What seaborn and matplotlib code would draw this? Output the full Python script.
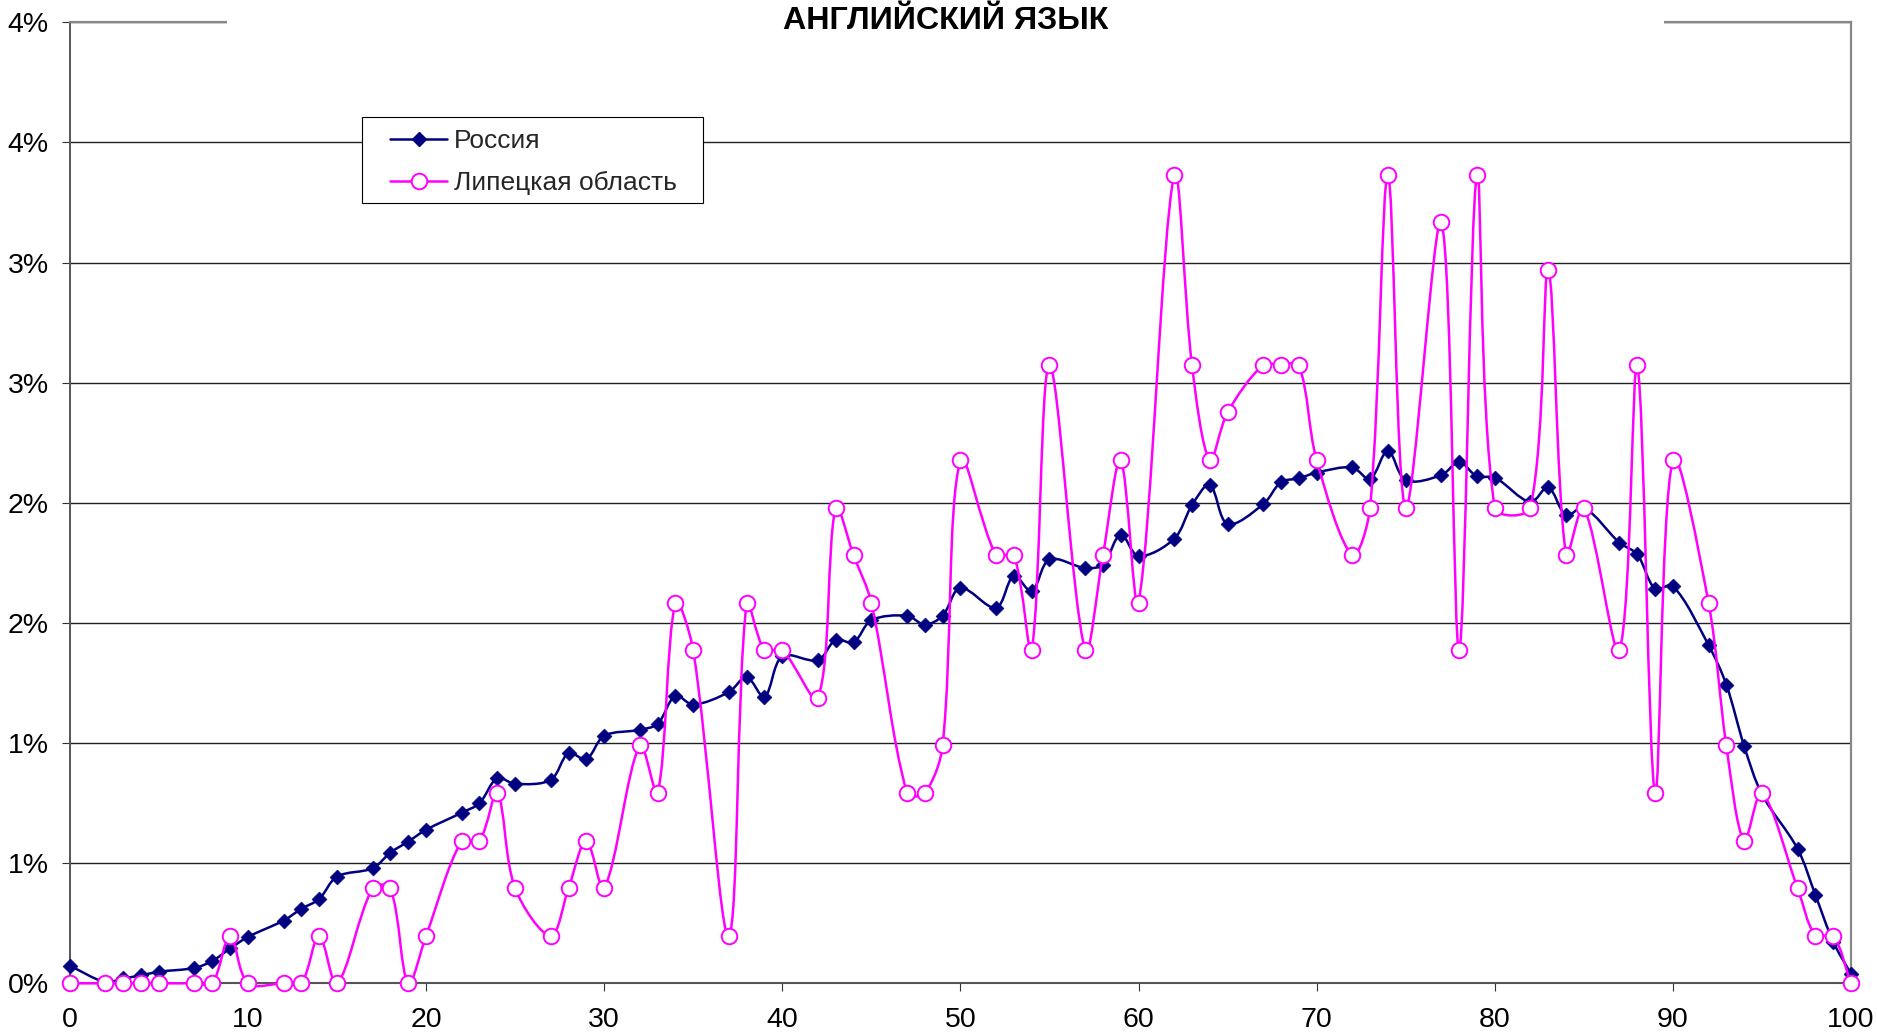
import math
import numpy as np
import matplotlib
matplotlib.use("Agg")
import matplotlib.pyplot as plt
from matplotlib.path import Path
from matplotlib.patches import PathPatch, Rectangle
from matplotlib.lines import Line2D
from matplotlib.ticker import FuncFormatter
import seaborn as sns

# Test scores (points) on the x axis
scores = [0, 2, 3, 4, 5, 7, 8, 9, 10, 12, 13, 14, 15, 17, 18, 19, 20,
          22, 23, 24, 25, 27, 28, 29, 30, 32, 33, 34, 35, 37, 38, 39, 40,
          42, 43, 44, 45, 47, 48, 49, 50, 52, 53, 54, 55, 57, 58, 59, 60,
          62, 63, 64, 65, 67, 68, 69, 70, 72, 73, 74, 75, 77, 78, 79, 80,
          82, 83, 84, 85, 87, 88, 89, 90, 92, 93, 94, 95, 97, 98, 99, 100]

# Share of participants, %
russia = [0.073, 0.005, 0.020, 0.033, 0.048, 0.064, 0.093, 0.145, 0.193,
          0.261, 0.310, 0.351, 0.444, 0.479, 0.544, 0.590, 0.639,
          0.710, 0.750, 0.854, 0.830, 0.847, 0.958, 0.933, 1.030,
          1.055, 1.080, 1.197, 1.160, 1.212, 1.275, 1.192, 1.361,
          1.345, 1.430, 1.419, 1.511, 1.530, 1.493, 1.530, 1.646,
          1.563, 1.697, 1.632, 1.764, 1.729, 1.743, 1.868, 1.778,
          1.850, 1.990, 2.075, 1.912, 1.994, 2.086, 2.102, 2.126,
          2.147, 2.099, 2.217, 2.094, 2.115, 2.170, 2.110, 2.105,
          2.003, 2.065, 1.948, 1.980, 1.834, 1.785, 1.642, 1.654,
          1.408, 1.243, 0.988, 0.787, 0.560, 0.368, 0.173, 0.039]

lipetsk = [0.0, 0.0, 0.0, 0.0, 0.0, 0.0, 0.0, 0.198, 0.0,
           0.0, 0.0, 0.198, 0.0, 0.396, 0.396, 0.0, 0.198,
           0.594, 0.594, 0.792, 0.396, 0.198, 0.396, 0.594, 0.396,
           0.990, 0.792, 1.584, 1.386, 0.198, 1.584, 1.386, 1.386,
           1.188, 1.980, 1.782, 1.584, 0.792, 0.792, 0.990, 2.178,
           1.782, 1.782, 1.386, 2.574, 1.386, 1.782, 2.178, 1.584,
           3.366, 2.574, 2.178, 2.376, 2.574, 2.574, 2.574, 2.178,
           1.782, 1.980, 3.366, 1.980, 3.168, 1.386, 3.366, 1.980,
           1.980, 2.970, 1.782, 1.980, 1.386, 2.574, 0.792, 2.178,
           1.584, 0.990, 0.594, 0.792, 0.396, 0.198, 0.198, 0.0]

x_ticks = [0, 10, 20, 30, 40, 50, 60, 70, 80, 90, 100]
y_ticks = [0.0, 0.5, 1.0, 1.5, 2.0, 2.5, 3.0, 3.5, 4.0]
series_names = ["Россия", "Липецкая область"]
title = "АНГЛИЙСКИЙ ЯЗЫК"

NAVY = "#000080"
MAGENTA = "#FF00FF"

sns.set_theme(style="white")
plt.rcParams["font.family"] = ["Liberation Sans", "DejaVu Sans"]

W, H = 1877, 1035
X_MAX, Y_MAX = 100, 4
ax_box = [69.8 / W, (H - 983.3) / H, (1851 - 69.8) / W, (983.3 - 22.3) / H]
fig = plt.figure(figsize=(W / 100, H / 100), dpi=100)
ax = fig.add_axes(ax_box)

# pixels per data unit, used to measure segment lengths on screen
SX = ax_box[2] * W / X_MAX
SY = ax_box[3] * H / Y_MAX


def smooth_path(xs, ys):
    """Smoothed line through the points: cubic Bezier segments whose
    tangents follow the neighbouring points, scaled by on-screen segment length."""
    pts = np.column_stack([xs, ys]).astype(float)
    scr = pts * np.array([SX, SY])
    n = len(pts)

    def seglen(i, j):
        return float(np.hypot(*(scr[j] - scr[i])))

    verts = [pts[0]]
    codes = [Path.MOVETO]
    for i in range(n - 1):
        i0 = max(i - 1, 0)
        i3 = min(i + 2, n - 1)
        d01 = seglen(i0, i)
        d12 = seglen(i, i + 1)
        d23 = seglen(i + 1, i3)
        f1 = d12 / (d01 + d12) / 3.0 if d01 + d12 > 0 else 0.0
        f2 = d12 / (d12 + d23) / 3.0 if d12 + d23 > 0 else 0.0
        c1 = pts[i] + (pts[i + 1] - pts[i0]) * f1
        c2 = pts[i + 1] - (pts[i3] - pts[i]) * f2
        verts += [c1, c2, pts[i + 1]]
        codes += [Path.CURVE4] * 3
    return Path(verts, codes)


# Россия
ax.add_patch(PathPatch(smooth_path(scores, russia), fill=False, edgecolor=NAVY,
                       lw=1.8, zorder=3, clip_on=False, joinstyle="round"))
sns.scatterplot(x=scores, y=russia, marker="D", s=58, color=NAVY,
                edgecolor=NAVY, linewidth=0.4, ax=ax, zorder=4,
                clip_on=False, legend=False)

# Липецкая область
ax.add_patch(PathPatch(smooth_path(scores, lipetsk), fill=False, edgecolor=MAGENTA,
                       lw=1.8, zorder=5, clip_on=False, joinstyle="round"))
sns.scatterplot(x=scores, y=lipetsk, marker="o", s=125, color="white",
                edgecolor=MAGENTA, linewidth=1.4, ax=ax, zorder=6,
                clip_on=False, legend=False)

ax.set_xlim(0, X_MAX)
ax.set_ylim(0, Y_MAX)
ax.set_xticks(x_ticks)
ax.set_yticks(y_ticks)
ax.yaxis.set_major_formatter(FuncFormatter(lambda v, p: f"{int(math.floor(v + 0.5 + 1e-9))}%"))
ax.set_xlabel("")
ax.set_ylabel("")

ax.set_axisbelow(True)
ax.yaxis.grid(True, color="#222222", lw=1.0)
ax.xaxis.grid(False)

ax.tick_params(axis="both", which="major", bottom=True, left=True, direction="out",
               length=5.8, width=0.8, color="#333333", labelsize=20.5,
               labelcolor="black")
ax.tick_params(axis="y", pad=9.4)
ax.tick_params(axis="x", pad=11.0)

for side, col, lw in [("left", "#555555", 1.4), ("bottom", "#555555", 1.5),
                      ("top", "#888888", 1.6), ("right", "#888888", 1.6)]:
    ax.spines[side].set_visible(True)
    ax.spines[side].set_color(col)
    ax.spines[side].set_linewidth(lw)

# Title on a white band over the top edge
fig.add_artist(Rectangle((227 / W, 1 - 40 / H), (1664 - 227) / W, 40 / H,
                         transform=fig.transFigure, facecolor="white",
                         edgecolor="none", zorder=3))
fig.text(946 / W, 1 - 28.8 / H, title, ha="center", va="baseline",
         fontsize=23.2, fontweight="bold", color="black", zorder=4)

# Legend with its own rectangular frame
fig.add_artist(Rectangle((361.7 / W, 1 - 203.3 / H), (702.7 - 361.7) / W, (203.3 - 117.3) / H,
                         transform=fig.transFigure, facecolor="white",
                         edgecolor="black", lw=0.8, zorder=3))
handles = [
    Line2D([0], [0], color=NAVY, lw=1.8, marker="D", ms=7.6, mfc=NAVY, mec=NAVY),
    Line2D([0], [0], color=MAGENTA, lw=1.8, marker="o", ms=11.2, mfc="white",
           mec=MAGENTA, mew=1.4),
]
leg = fig.legend(handles, series_names, loc="center left",
                 bbox_to_anchor=(390 / W, 1 - 162 / H), frameon=False,
                 borderpad=0, borderaxespad=0, handlelength=2.16,
                 handletextpad=0.27, labelspacing=0.68, fontsize=19)
leg.set_zorder(4)

fig.savefig("out.png", dpi=100, facecolor="white")
